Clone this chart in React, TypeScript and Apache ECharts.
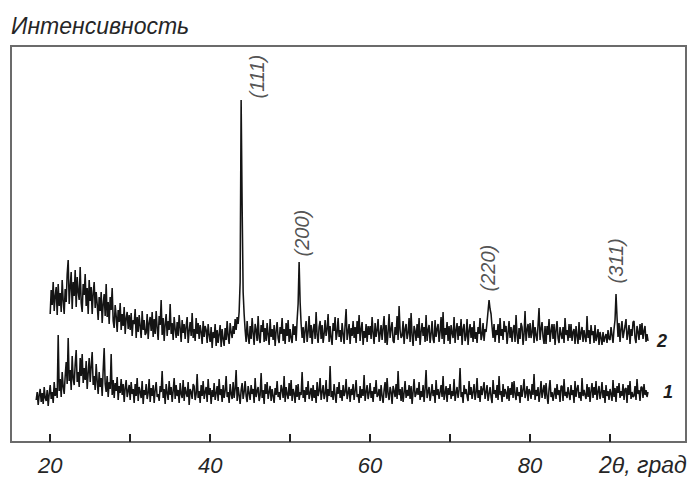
import React, { useEffect, useRef } from "react";
import * as echarts from "echarts";

// Diffraction angle grid (2θ, degrees)
const STEP = 0.125;
const START_1 = 18.25;
const START_2 = 20;

// Curve 1: intensity, arbitrary units (one row per degree from 19°)
const curve1 = [
  42, 50, 37, 47, 53, 40,
  49, 38, 55, 44, 41, 52, 36, 48,
  57, 43, 50, 39, 60, 46, 54, 44,
  107, 51, 63, 45, 70, 55, 48, 66,
  80, 58, 104, 61, 72, 52, 86, 63,
  57, 78, 92, 60, 70, 55, 84, 66,
  88, 59, 74, 62, 81, 53, 69, 84,
  60, 76, 90, 57, 66, 52, 78, 61,
  48, 70, 55, 64, 46, 72, 94, 58,
  50, 66, 45, 60, 53, 88, 47, 62,
  44, 59, 51, 65, 42, 56, 49, 63,
  47, 58, 40, 54, 62, 45, 51, 57,
  42, 60, 48, 53, 39, 58, 46, 64,
  41, 55, 50, 44, 61, 38, 52, 47,
  58, 43, 49, 63, 40, 54, 46, 57,
  39, 52, 60, 45, 48, 41, 56, 50,
  71, 44, 53, 38, 58, 49, 42, 61,
  47, 55, 40, 51, 64, 43, 57, 46,
  52, 39, 59, 48, 44, 62, 41, 55,
  49, 45, 60, 37, 53, 50, 43, 58,
  56, 42, 48, 68, 44, 51, 39, 57,
  46, 61, 43, 50, 55, 40, 63, 47,
  54, 38, 52, 45, 59, 42, 49, 56,
  41, 63, 47, 53, 40, 57, 44, 51,
  66, 45, 50, 39, 58, 48, 43, 60,
  44, 53, 72, 41, 55, 47, 38, 52,
  59, 43, 50, 61, 46, 40, 56, 49,
  42, 57, 48, 53, 39, 64, 45, 51,
  55, 41, 47, 69, 44, 52, 38, 58,
  48, 60, 43, 50, 56, 41, 53, 46,
  39, 54, 47, 61, 45, 50, 42, 57,
  52, 44, 66, 40, 55, 48, 43, 59,
  46, 62, 41, 53, 49, 39, 57, 45,
  58, 42, 50, 47, 70, 44, 52, 40,
  55, 47, 61, 43, 49, 54, 41, 57,
  44, 52, 39, 60, 46, 51, 64, 42,
  50, 57, 43, 48, 62, 40, 53, 46,
  76, 45, 51, 42, 58, 47, 39, 55,
  48, 60, 44, 52, 41, 57, 46, 50,
  63, 43, 49, 55, 40, 53, 47, 58,
  42, 51, 62, 45, 48, 39, 56, 44,
  53, 46, 67, 41, 50, 57, 43, 49,
  59, 44, 51, 40, 55, 48, 62, 45,
  47, 53, 41, 57, 46, 39, 52, 60,
  44, 64, 48, 42, 55, 50, 38, 56,
  51, 45, 58, 43, 71, 47, 53, 41,
  55, 40, 49, 61, 44, 52, 46, 57,
  43, 56, 38, 50, 63, 45, 48, 54,
  47, 60, 42, 51, 45, 57, 40, 53,
  72, 44, 50, 55, 41, 48, 58, 46,
  52, 39, 62, 47, 53, 43, 50, 57,
  45, 66, 42, 49, 56, 40, 54, 47,
  58, 43, 51, 46, 63, 41, 49, 55,
  44, 52, 74, 45, 50, 39, 57, 48,
  53, 46, 41, 61, 47, 55, 43, 50,
  58, 42, 49, 64, 44, 52, 40, 56,
  47, 53, 60, 43, 50, 57, 41, 48,
  55, 45, 39, 62, 48, 52, 44, 57,
  42, 66, 47, 51, 40, 58, 45, 53,
  49, 43, 56, 41, 54, 47, 60, 44,
  61, 48, 42, 55, 46, 50, 39, 57,
  45, 52, 63, 44, 49, 56, 41, 53,
  50, 43, 58, 47, 68, 42, 52, 46,
  55, 40, 49, 61, 44, 51, 57, 43,
  59, 46, 38, 53, 62, 45, 50, 41,
  48, 54, 43, 58, 47, 52, 40, 56,
  56, 41, 63, 46, 50, 44, 55, 48,
  42, 57, 47, 52, 39, 61, 45, 53,
  57, 44, 50, 41, 64, 46, 52, 47,
  43, 58, 45, 55, 40, 51, 59, 44,
  55, 47, 61, 42, 50, 56, 43, 49,
  60, 44, 52, 39, 57, 46, 51, 42,
  53, 48, 41, 62, 45, 54, 40, 56,
  49, 59, 44, 51, 46, 58, 42, 53,
  54, 39, 57, 47, 61, 43, 50, 45,
  46, 56, 42, 63, 48, 52, 41, 55,
  55, 44, 58, 47, 52, 45, 50,
];

// Curve 2: intensity, arbitrary units, shifted above curve 1 (one row per degree from 20°)
const curve2 = [
  128, 152, 137, 160, 131, 146, 155, 127,
  158, 136, 149, 130, 162, 141, 128, 153,
  140, 168, 182, 138, 155, 170, 133, 160,
  146, 172, 135, 165, 150, 142, 175, 139,
  130, 158, 147, 168, 136, 154, 128, 162,
  141, 155, 128, 149, 160, 134, 150, 138,
  122, 145, 131, 150, 119, 138, 148, 126,
  158, 125, 140, 118, 145, 132, 154, 121,
  114, 137, 126, 110, 132, 120, 139, 112,
  128, 116, 135, 108, 124, 130, 113, 127,
  112, 129, 106, 122, 118, 133, 104, 125,
  110, 127, 116, 104, 131, 112, 122, 107,
  109, 128, 103, 119, 125, 111, 130, 105,
  123, 108, 131, 114, 102, 126, 117, 142,
  107, 124, 101, 118, 128, 106, 121, 112,
  138, 108, 119, 102, 125, 113, 104, 120,
  106, 127, 114, 100, 122, 109, 118, 103,
  116, 125, 99, 111, 120, 106, 129, 104,
  113, 101, 124, 108, 119, 103, 117, 110,
  98, 121, 105, 116, 112, 99, 118, 107,
  100, 115, 94, 110, 104, 118, 96, 112,
  99, 108, 117, 95, 113, 103, 96, 114,
  102, 121, 106, 98, 119, 110, 104, 116,
  108, 123, 112, 125, 118, 130, 160, 342,
  236, 150, 128, 112, 100, 121, 106, 98,
  116, 103, 124, 109, 97, 118, 112, 101,
  126, 104, 99, 117, 110, 122, 100, 114,
  101, 119, 107, 97, 123, 105, 113, 102,
  117, 96, 111, 120, 104, 99, 115, 108,
  124, 101, 113, 98, 119, 106, 122, 100,
  113, 104, 99, 118, 107, 116, 101, 122,
  138, 180, 140, 118, 104, 115, 99, 112,
  121, 100, 110, 126, 104, 117, 98, 112,
  118, 103, 130, 107, 99, 115, 121, 103,
  117, 99, 108, 122, 106, 113, 128, 100,
  116, 104, 97, 119, 111, 125, 102, 109,
  124, 105, 112, 100, 119, 108, 98, 117,
  133, 102, 110, 118, 98, 114, 106, 121,
  104, 115, 99, 121, 108, 127, 101, 113,
  120, 97, 111, 104, 118, 100, 116, 107,
  116, 103, 125, 109, 98, 119, 105, 112,
  123, 100, 108, 117, 102, 114, 126, 99,
  117, 97, 110, 128, 104, 113, 120, 101,
  99, 115, 107, 126, 102, 136, 112, 104,
  106, 121, 98, 113, 118, 103, 109, 124,
  100, 129, 107, 96, 116, 111, 101, 118,
  104, 124, 97, 110, 119, 106, 115, 100,
  127, 101, 112, 117, 99, 108, 121, 103,
  99, 122, 105, 113, 118, 100, 110, 125,
  103, 130, 98, 114, 107, 120, 101, 116,
  98, 117, 109, 104, 125, 99, 112, 119,
  102, 116, 106, 123, 97, 113, 118, 101,
  106, 123, 97, 111, 118, 104, 115, 100,
  121, 103, 110, 99, 115, 108, 124, 102,
  107, 119, 101, 113, 110, 120, 131, 142,
  133, 128, 115, 104, 118, 100, 112, 107,
  118, 99, 124, 106, 113, 102, 121, 110,
  116, 98, 109, 121, 104, 115, 100, 112,
  117, 100, 127, 107, 98, 114, 103, 119,
  115, 97, 108, 131, 101, 112, 118, 104,
  119, 104, 110, 122, 99, 115, 107, 101,
  117, 134, 102, 113, 120, 105, 98, 116,
  98, 116, 107, 123, 100, 111, 118, 103,
  118, 97, 112, 121, 104, 99, 115, 108,
  103, 115, 99, 124, 107, 112, 101, 118,
  104, 118, 101, 110, 113, 98, 116, 106,
  98, 120, 102, 109, 115, 100, 112, 105,
  100, 126, 104, 112, 98, 117, 107, 111,
  99, 117, 101, 106, 113, 97, 110, 104,
  97, 110, 100, 105, 108, 99, 112, 103,
  102, 115, 107, 99, 113, 122, 148, 125,
  105, 119, 100, 113, 121, 104, 110, 116,
  123, 102, 109, 117, 98, 113, 106, 120,
  121, 104, 99, 116, 110, 102, 118, 107,
  119, 103, 111, 116, 100, 108, 101,
];

// Reflexes of curve 2 (Miller indices and their 2θ positions)
const reflexNames = ["(111)", "(200)", "(220)", "(311)"];
const reflexAngles = [43.875, 51.125, 74.875, 90.75];

// Axis ticks and labels
const tickValues = [20, 30, 40, 50, 60, 70, 80, 90];
const labelValues = [20, 40, 60, 80];

const FONT = '"Liberation Sans", Arial, Helvetica, sans-serif';
const INK = "#141414";
const TEXT = "#262626";

const toPairs = (start: number, values: number[]) =>
  values.map((v, i) => [start + i * STEP, v]);

const reflexPoints = reflexAngles.map((a) => [
  a,
  curve2[Math.round((a - START_2) / STEP)],
]);

// Per-reflex label placement: [shift to the right, gap above peak]
const reflexLabelOffsets = [
  [16, 1],
  [3, 5],
  [-1, 8],
  [0, 10],
];

const endLabel = (distance: number) => ({
  show: true,
  formatter: "{a}",
  distance,
  fontFamily: FONT,
  fontStyle: "italic",
  fontWeight: "bold",
  fontSize: 18,
  color: "#1e1e1e",
});

export default function App() {
  const ref = useRef<HTMLDivElement>(null);

  useEffect(() => {
    if (!ref.current) return;
    const chart = echarts.init(ref.current, null, { renderer: "svg" });

    const lineBase = {
      type: "line" as const,
      showSymbol: false,
      symbol: "none",
      lineStyle: { color: INK, width: 1.55 },
    };

    chart.setOption({
      animation: false,
      backgroundColor: "#ffffff",
      grid: {
        left: 11,
        right: 10,
        top: 46,
        bottom: 35,
        show: true,
        borderColor: "#6b6b6b",
        borderWidth: 2,
        backgroundColor: "transparent",
      },
      xAxis: {
        type: "value",
        min: 15.1,
        max: 99.5,
        axisLine: { show: false },
        splitLine: { show: false },
        axisTick: {
          show: true,
          inside: true,
          length: 8,
          customValues: tickValues,
          lineStyle: { color: "#222", width: 2 },
        },
        axisLabel: {
          show: true,
          customValues: labelValues,
          margin: 12,
          fontFamily: FONT,
          fontStyle: "italic",
          fontSize: 22,
          color: TEXT,
        },
      },
      yAxis: {
        type: "value",
        min: 0,
        max: 396,
        name: "Интенсивность",
        nameLocation: "end",
        nameGap: 9,
        nameTextStyle: {
          align: "left",
          verticalAlign: "bottom",
          fontFamily: FONT,
          fontStyle: "italic",
          fontSize: 23,
          color: TEXT,
        },
        axisLine: { show: false },
        axisTick: { show: false },
        axisLabel: { show: false },
        splitLine: { show: false },
      },
      series: [
        {
          ...lineBase,
          name: "1",
          data: toPairs(START_1, curve1),
          endLabel: endLabel(15),
        },
        {
          ...lineBase,
          name: "2",
          data: toPairs(START_2, curve2),
          endLabel: endLabel(9),
        },
        {
          type: "scatter",
          name: "reflexes",
          symbolSize: 1,
          itemStyle: { color: "rgba(0,0,0,0)" },
          data: reflexPoints.map((p, i) => ({
            value: p,
            label: {
              show: true,
              formatter: reflexNames[i],
              position: "top",
              distance: reflexLabelOffsets[i][1],
              // the label is turned 90°, so its local y runs to the right
              offset: [0, reflexLabelOffsets[i][0]],
              rotate: 90,
              align: "left",
              verticalAlign: "middle",
              fontFamily: FONT,
              fontStyle: "italic",
              fontSize: 20,
              color: TEXT,
            },
          })),
        },
      ],
      graphic: [
        {
          type: "text",
          left: 599,
          top: 453,
          style: {
            text: "2θ, град",
            fontFamily: FONT,
            fontStyle: "italic",
            fontSize: 23,
            fill: TEXT,
          },
        },
      ],
    });

    return () => chart.dispose();
  }, []);

  return (
    <div
      ref={ref}
      style={{ position: "fixed", left: 0, top: 0, width: 696, height: 477 }}
    />
  );
}
